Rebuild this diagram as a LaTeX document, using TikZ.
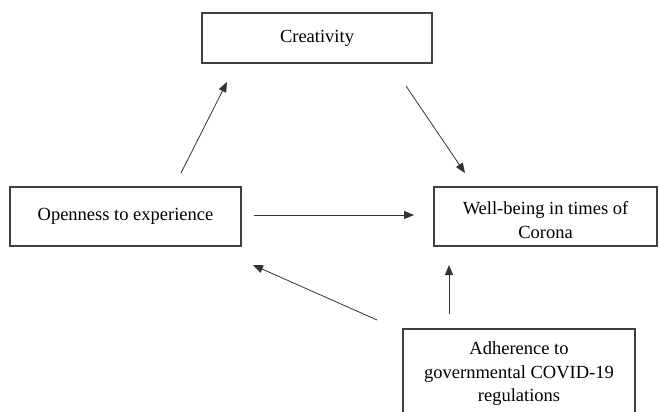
\documentclass[tikz,border=0pt]{standalone}
\usepackage{fontspec}
\setmainfont{Liberation Serif}
\usetikzlibrary{arrows.meta}
\tikzset{
  box/.style={draw=black!75, line width=1.6pt, rectangle, inner sep=0pt, align=center},
  conn/.style={draw=black!80, line width=0.8pt, -{Triangle[length=10pt,width=8pt]}},
  lbl/.style={align=center, inner sep=0pt}
}
\begin{document}
\begin{tikzpicture}[x=1pt,y=-1pt,font=\fontsize{18.5}{23.5}\selectfont]
\useasboundingbox (0,0) rectangle (659,412);
\clip (0,0) rectangle (659,412);
\node[box, minimum width=230pt, minimum height=50pt] (cre) at (317,38) {Creativity};
\node[box, minimum width=231pt, minimum height=59pt] (ope) at (125.5,216.5) {Openness to experience};
\node[box, minimum width=223pt, minimum height=59pt] (wel) at (545.5,216.5) {};
\node[lbl] (weltext) at (545.5,220) {Well-being in times of\\Corona};
\node[box, minimum width=232pt, minimum height=110pt, anchor=north] (adhbox) at (519,328) {};
\node[lbl] (adh) at (519,374) {Adherence to\\governmental COVID-19\\regulations};
% connector end points
\coordinate (a1) at (181,173); \coordinate (a2) at (227,82);
\coordinate (b1) at (406,86); \coordinate (b2) at (465,173);
\coordinate (c1) at (254,215); \coordinate (c2) at (414,215);
\coordinate (d1) at (377,320); \coordinate (d2) at (253,265);
\coordinate (e1) at (449,314); \coordinate (e2) at (449,265);
\draw[conn] (a1) -- (a2);
\draw[conn] (b1) -- (b2);
\draw[conn] (c1) -- (c2);
\draw[conn] (d1) -- (d2);
\draw[conn] (e1) -- (e2);
\end{tikzpicture}
\end{document}
